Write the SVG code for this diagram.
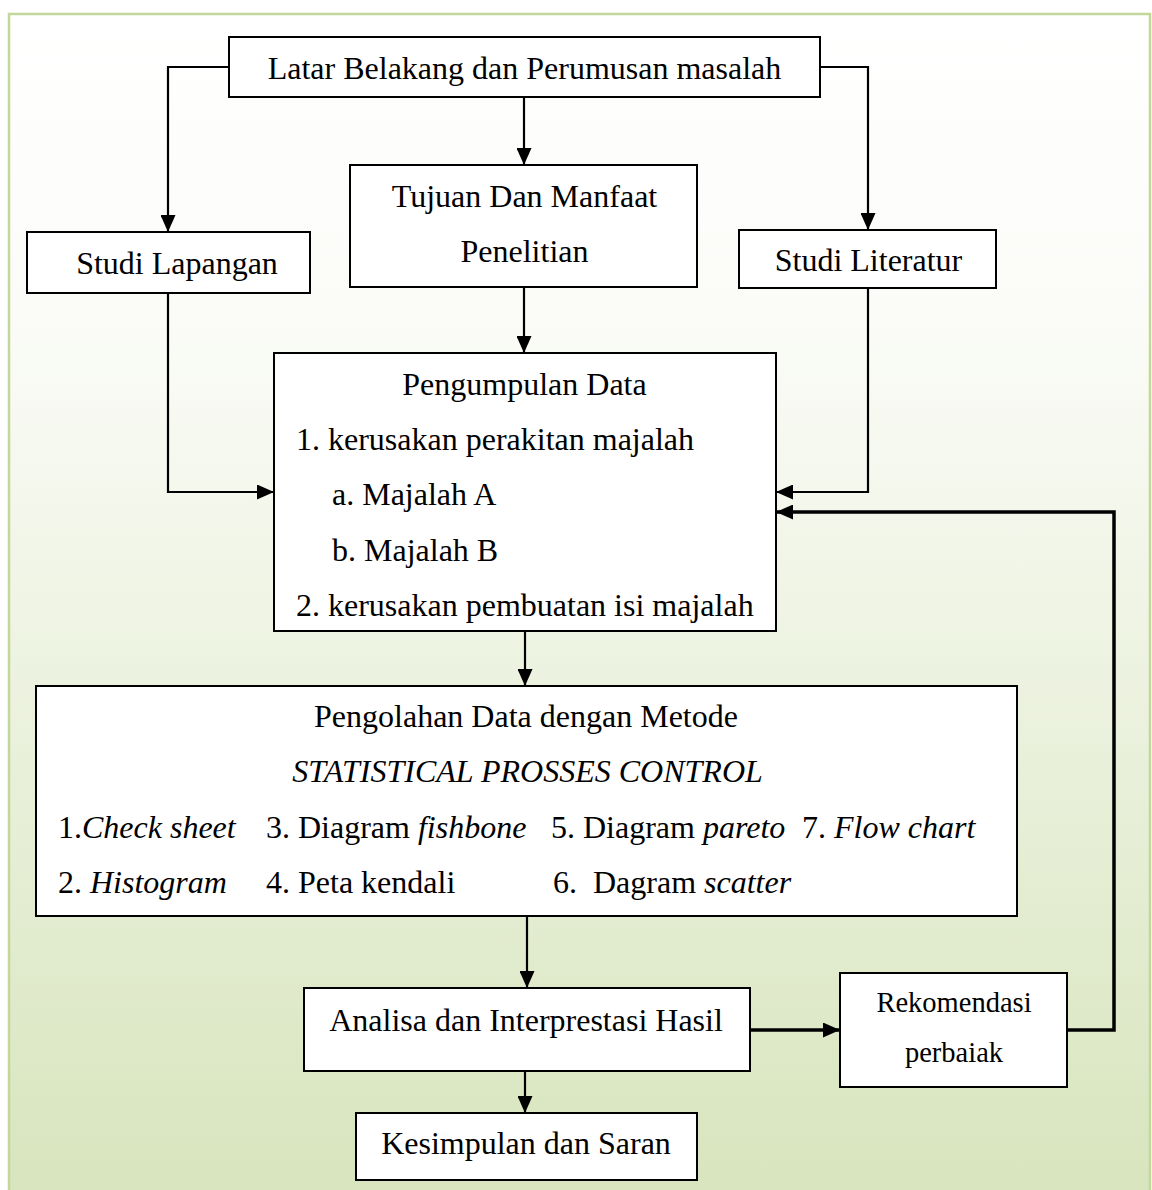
<svg xmlns="http://www.w3.org/2000/svg" width="1152" height="1190" viewBox="0 0 1152 1190">
<defs>
<linearGradient id="bg" x1="0" y1="0" x2="0" y2="1">
<stop offset="0" stop-color="#ffffff"/>
<stop offset="0.25" stop-color="#fbfcf8"/>
<stop offset="1" stop-color="#d7e4bc"/>
</linearGradient>
<marker id="arr" viewBox="0 0 17 15" refX="17" refY="7.5" markerWidth="17" markerHeight="15" markerUnits="userSpaceOnUse" orient="auto">
<path d="M0,0 L17,7.5 L0,15 Z" fill="#000"/>
</marker>
</defs>
<style>
.box{fill:#fff;stroke:#000;stroke-width:2}
.t{font-family:"Liberation Serif","Times New Roman",serif;font-size:32px;fill:#000}
.s{font-size:28.5px}
.c{text-anchor:middle}
.i{font-style:italic}
.ln{fill:none;stroke:#000;stroke-width:2.2;marker-end:url(#arr)}
.thk{stroke-width:3.5}
</style>
<rect x="0" y="0" width="1152" height="1190" fill="#ffffff"/>
<rect x="9" y="14" width="1141" height="1200" fill="url(#bg)" stroke="#c3d69b" stroke-width="2.5"/>
<g id="connectors">
<path class="ln" d="M229,67 H168 V232"/>
<path class="ln" d="M820,67 H868 V230"/>
<path class="ln" d="M524,97 V165"/>
<path class="ln" d="M168,293 V492 H274"/>
<path class="ln" d="M524,287 V353"/>
<path class="ln" d="M868,288 V492 H776"/>
<path class="ln thk" d="M1067,1030 H1114 V512 H776"/>
<path class="ln" d="M525,631 V686"/>
<path class="ln" d="M527,916 V988"/>
<path class="ln thk" d="M750,1030 H840"/>
<path class="ln" d="M525,1071 V1113"/>
</g>
<g id="latar">
<rect class="box" x="229" y="37" width="591" height="60"/>
<text class="t c" x="524.5" y="79">Latar Belakang dan Perumusan masalah</text>
</g>
<g id="tujuan">
<rect class="box" x="350" y="165" width="347" height="122"/>
<text class="t c" x="524.5" y="207">Tujuan Dan Manfaat</text>
<text class="t c" x="524.5" y="262">Penelitian</text>
</g>
<g id="studi-lapangan">
<rect class="box" x="27" y="232" width="283" height="61"/>
<text class="t c" x="177" y="274">Studi Lapangan</text>
</g>
<g id="studi-literatur">
<rect class="box" x="739" y="230" width="257" height="58"/>
<text class="t c" x="868.5" y="271">Studi Literatur</text>
</g>
<g id="pengumpulan">
<rect class="box" x="274" y="353" width="502" height="278"/>
<text class="t c" x="524.5" y="395">Pengumpulan Data</text>
<text class="t" x="296" y="450">1. kerusakan perakitan majalah</text>
<text class="t" x="332" y="505">a. Majalah A</text>
<text class="t" x="332" y="561">b. Majalah B</text>
<text class="t" x="296" y="616">2. kerusakan pembuatan isi majalah</text>
</g>
<g id="pengolahan">
<rect class="box" x="36" y="686" width="981" height="230"/>
<text class="t c" x="526" y="727">Pengolahan Data dengan Metode</text>
<text class="t c i" x="527.5" y="782">STATISTICAL PROSSES CONTROL</text>
<text class="t" x="58" y="838">1.<tspan class="i">Check sheet</tspan></text>
<text class="t" x="266" y="838">3. Diagram <tspan class="i">fishbone</tspan></text>
<text class="t" x="551" y="838">5. Diagram <tspan class="i">pareto</tspan></text>
<text class="t" x="802" y="838">7. <tspan class="i">Flow chart</tspan></text>
<text class="t" x="58" y="893">2. <tspan class="i">Histogram</tspan></text>
<text class="t" x="266" y="893">4. Peta kendali</text>
<text class="t" x="553" y="893">6.</text>
<text class="t" x="593" y="893">Dagram <tspan class="i">scatter</tspan></text>
</g>
<g id="analisa">
<rect class="box" x="304" y="988" width="446" height="83"/>
<text class="t c" x="526" y="1031">Analisa dan Interprestasi Hasil</text>
</g>
<g id="rekomendasi">
<rect class="box" x="840" y="973" width="227" height="114"/>
<text class="t s c" x="954" y="1012">Rekomendasi</text>
<text class="t s c" x="954" y="1062">perbaiak</text>
</g>
<g id="kesimpulan">
<rect class="box" x="356" y="1113" width="341" height="67"/>
<text class="t c" x="526" y="1154">Kesimpulan dan Saran</text>
</g>
</svg>
